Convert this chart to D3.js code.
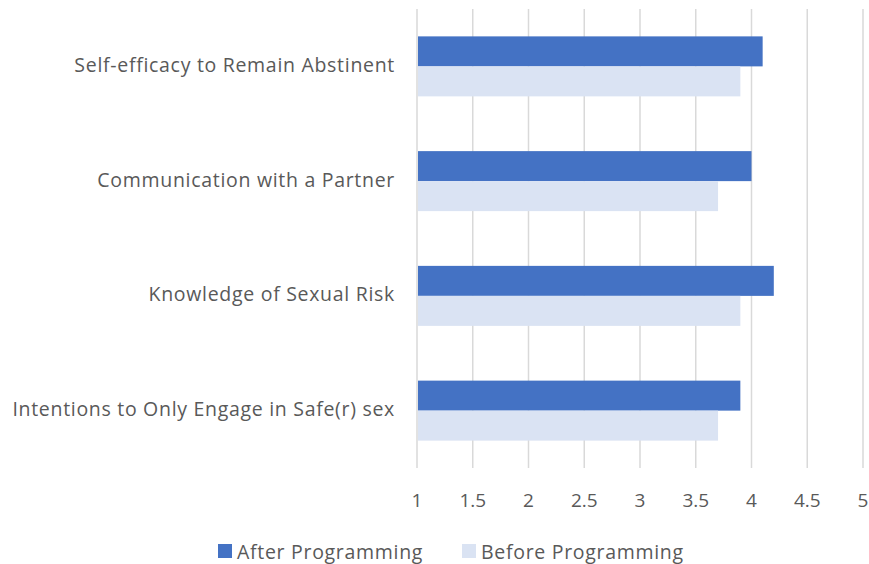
<!DOCTYPE html>
<html><head><meta charset="utf-8">
<script src="https://cdn.jsdelivr.net/npm/d3@7"></script>
<style>body{margin:0;background:#fff}svg{display:block}text{font-family:"Open Sans","Noto Sans",sans-serif;fill:#595959}</style>
</head><body>
<svg id="c" width="869" height="564"></svg>
<script>
const categories = ["Self-efficacy to Remain Abstinent","Communication with a Partner","Knowledge of Sexual Risk","Intentions to Only Engage in Safe(r) sex"];
const afterValues = [4.1, 4.0, 4.2, 3.9];
const beforeValues = [3.9, 3.7, 3.9, 3.7];
const seriesNames = ["After Programming","Before Programming"];
const xTicks = [1,1.5,2,2.5,3,3.5,4,4.5,5];
const colors = ["#4472c4","#dae3f3"];

const svg = d3.select("#c");
const L=417, R=863, T=9, B=468;
const x = d3.scaleLinear().domain([1,5]).range([L,R]);
const y = d3.scaleBand().domain(categories).range([T,B]);
const inner = d3.scaleBand().domain([0,1]).range([0,60]);

svg.append("g").selectAll("line").data(xTicks).join("line")
  .attr("x1",d=>x(d)).attr("x2",d=>x(d)).attr("y1",T).attr("y2",B)
  .attr("stroke","#d9d9d9").attr("stroke-width",1.5);

const series=[afterValues,beforeValues];
series.forEach((vals,si)=>{
  svg.append("g").selectAll("rect").data(categories).join("rect")
    .attr("x",x(1)+1)
    .attr("y",(d)=>y(d)+y.bandwidth()/2-30+inner(si))
    .attr("width",(d,i)=>x(vals[i])-x(1)-1)
    .attr("height",inner.bandwidth())
    .attr("fill",colors[si]);
});

svg.append("g").selectAll("text").data(categories).join("text")
  .attr("x",395).attr("y",d=>y(d)+y.bandwidth()/2-2)
  .attr("text-anchor","end").attr("dominant-baseline","central")
  .attr("font-size",19.5).attr("letter-spacing",0.7).text(d=>d);

svg.append("g").selectAll("text").data(xTicks).join("text")
  .attr("x",d=>x(d)).attr("y",500)
  .attr("text-anchor","middle").attr("dominant-baseline","central")
  .attr("font-size",19).text(d=>d);

const legX=[218,462];
seriesNames.forEach((n,i)=>{
  svg.append("rect").attr("x",legX[i]).attr("y",544).attr("width",14).attr("height",14).attr("fill",colors[i]);
  svg.append("text").attr("x",legX[i]+19).attr("y",551).attr("dominant-baseline","central")
    .attr("font-size",19.5).attr("letter-spacing",0.7).text(n);
});
</script>
</body></html>
